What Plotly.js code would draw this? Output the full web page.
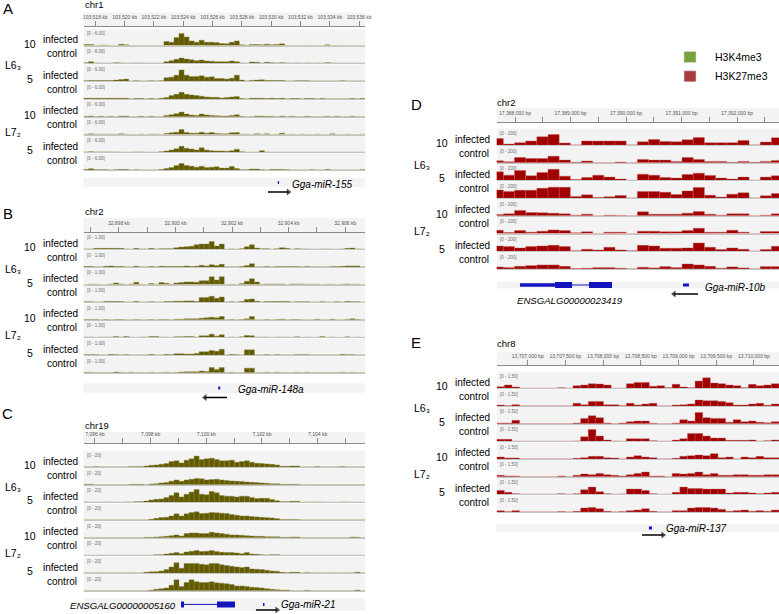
<!DOCTYPE html>
<html><head><meta charset="utf-8">
<script src="https://cdn.plot.ly/plotly-3.0.1.min.js"></script>
<style>html,body{margin:0;padding:0;background:#fff}#chart{width:779px;height:614px}</style>
</head><body><div id="chart"></div>
<script>
// ---------------- DATA (bin signal) ----------------
const sampleLabels = ['infected','control','infected','control','infected','control','infected','control'];
const dpiLabels = ['10','5','10','5'];
const lineLabels = ['L6\u2083','L7\u2082'];

// Panel A, chr1 (H3K4me3)
const A_L63_10_inf = [3,3,0,1,1,0,0,4,2,0,0,0,0,0,0,0, 12,10,24,36,26,14,10,16,10,10,9,6,5,10,14,2,1,3,3,2,4,2,3,5, 0,0,0,0,0,0,0,0,2,0,0,0,0,0,0,0];
const A_L63_10_ctl = [2,5,1,0,0,0,2,1,0,0,1,1,0,0,0,0, 5,8,12,16,13,11,8,10,7,6,5,5,5,7,5,1,0,4,3,1,3,2,1,2, 1,0,1,0,1,0,1,0,2,1,0,0,0,0,0,0];
const A_L63_5_inf  = [1,2,2,2,2,2,3,5,6,0,1,0,0,1,0,1, 10,12,18,34,18,14,14,16,12,13,8,8,6,9,18,3,0,2,3,4,2,2,2,2, 0,0,1,1,1,0,0,0,0,0,0,1,0,0,0,0];
const A_L63_5_ctl  = [2,2,2,2,2,2,2,2,2,0,1,1,0,1,0,2, 4,10,14,20,14,12,10,8,6,5,5,3,4,6,7,1,0,2,2,2,1,2,1,2, 0,1,1,0,1,1,0,1,0,0,0,0,0,1,0,1];
const A_L72_10_inf = [1,2,0,1,0,1,0,2,2,0,0,1,0,1,0,0, 4,6,9,14,8,5,4,8,5,4,3,2,2,4,6,1,0,0,2,2,1,1,0,2, 0,1,0,0,1,0,0,0,1,0,1,0,0,1,0,0];
const A_L72_10_ctl = [1,2,1,1,1,1,1,2,1,0,0,1,0,1,1,0, 3,5,7,15,6,4,4,7,4,6,3,2,2,5,6,1,1,0,2,1,2,0,1,4, 0,1,0,1,0,0,1,0,0,2,0,0,1,0,0,1];
const A_L72_5_inf  = [1,2,1,1,1,1,1,0,0,0,1,1,0,0,0,2, 4,7,11,18,12,10,7,14,7,5,4,4,3,5,9,2,0,0,0,5,1,0,0,0, 0,0,0,0,0,0,0,0,0,0,0,0,0,0,0,0];
const A_L72_5_ctl  = [2,4,1,1,1,0,1,2,2,0,1,0,0,0,0,2, 5,8,14,20,14,12,9,12,8,9,10,6,6,11,5,1,1,3,3,1,0,2,2,2, 1,0,0,0,0,1,0,0,2,0,0,0,0,0,0,1];

// Panel B, chr2 (H3K4me3)
const B_L63_10_inf = [1,1,3,3,3,3,3,3,1,0,3,1,1,3,1,2, 2,2,5,7,8,9,14,16,16,24,10,16,0,1,0,2,8,14,4,2,2,0,2,5, 3,0,2,1,1,0,0,1,1,0,0,1,3,4,1,0];
const B_L63_10_ctl = [1,1,0,0,2,3,1,1,0,0,2,0,0,1,0,2, 1,1,1,1,3,1,2,5,3,7,4,8,0,0,0,1,4,10,0,0,1,0,1,1, 1,1,1,0,1,0,0,0,0,1,1,2,3,3,3,0];
const B_L63_5_inf  = [0,1,1,0,0,2,5,2,0,2,7,1,0,3,1,6, 4,1,5,6,8,8,7,12,12,24,14,24,0,1,0,3,10,18,8,1,2,2,2,2, 0,2,2,2,1,1,1,0,1,1,0,1,2,1,1,0];
const B_L63_5_ctl  = [1,1,0,0,2,2,2,2,0,0,2,0,0,1,0,0, 2,2,3,3,4,4,2,14,14,18,12,16,0,1,0,2,8,10,3,0,2,2,2,2, 2,0,1,1,1,0,0,1,0,0,1,0,2,1,1,0];
const B_L72_10_inf = [1,1,1,0,1,0,1,1,0,0,1,0,0,1,0,1, 1,0,2,2,3,3,3,5,6,8,6,10,0,1,0,1,3,10,0,0,1,0,1,2, 0,1,1,0,0,0,2,0,0,2,0,0,1,3,1,0];
const B_L72_10_ctl = [1,1,0,1,1,1,3,1,3,1,0,1,1,3,3,1, 1,0,2,2,3,3,1,5,5,10,4,8,0,1,0,2,6,5,1,1,1,0,1,1, 1,0,2,0,1,0,0,3,0,1,0,0,2,0,1,0];
const B_L72_5_inf  = [1,1,1,0,0,2,1,0,1,0,0,0,0,2,0,0, 2,1,4,4,3,3,5,10,10,14,12,18,0,2,1,0,16,16,0,0,1,0,1,0, 0,0,1,1,1,0,0,0,0,0,0,2,1,1,0,0];
const B_L72_5_ctl  = [1,1,0,0,0,0,2,1,0,1,0,0,0,1,0,0, 1,0,1,2,3,3,3,5,4,16,10,16,0,1,0,0,14,14,0,0,1,0,1,0, 0,0,1,0,1,0,0,0,0,0,0,1,0,1,0,0];

// Panel C, chr19 (H3K4me3)
const C_L63_10_inf = [0,0,1,0,0,0,0,0,0,1,1,1,3,5,6,8, 10,16,18,12,20,24,32,22,24,26,22,18,18,20,14,16,18,14,11,10,9,8,6,2, 2,3,3,0,0,0,1,0,0,0,0,1,0,0,0,0];
const C_L63_10_ctl = [1,1,0,0,0,0,0,0,0,1,1,1,0,2,3,5, 6,10,14,10,14,16,18,17,14,15,16,14,12,11,10,9,8,7,6,5,4,3,3,1, 1,1,1,0,0,0,0,0,0,0,0,0,0,0,0,0];
const C_L63_5_inf  = [1,0,0,0,1,1,0,0,1,1,2,2,4,7,9,10, 14,20,28,16,24,30,38,24,22,32,28,20,18,18,16,18,18,14,11,12,12,8,5,2, 2,3,3,0,1,1,1,1,0,0,0,1,1,0,0,0];
const C_L63_5_ctl  = [0,0,0,0,0,0,0,0,0,0,0,0,0,2,5,7, 8,12,18,12,18,22,24,19,20,22,21,20,19,16,14,12,12,10,9,8,7,6,4,1, 1,1,1,0,0,0,0,0,0,0,0,0,0,0,0,0];
const C_L72_10_inf = [0,0,0,0,0,0,0,0,0,0,0,0,1,1,2,3, 4,6,8,5,12,14,14,12,12,16,14,12,10,8,8,7,6,5,4,4,3,3,3,1, 1,2,2,0,0,0,0,0,0,0,0,0,0,2,1,0];
const C_L72_10_ctl = [0,0,0,0,0,0,0,0,0,0,0,0,0,0,2,2, 4,6,8,5,10,12,14,11,12,14,11,9,8,8,7,5,8,4,3,2,1,2,2,0, 0,0,0,0,0,0,0,0,0,0,0,0,0,0,0,0];
const C_L72_5_inf  = [0,0,0,0,0,0,0,0,0,0,0,0,2,4,4,6, 10,18,30,14,28,28,28,26,24,28,28,24,22,20,18,16,18,12,11,10,8,6,5,2, 1,2,2,0,1,0,0,0,0,0,0,0,0,0,2,0];
const C_L72_5_ctl  = [0,0,0,0,0,0,0,0,0,0,0,0,0,2,4,6, 8,16,32,12,24,32,26,24,24,26,23,22,20,18,14,14,12,10,9,8,6,4,3,2, 2,0,0,0,1,0,0,0,0,0,0,0,0,0,2,0];

// Panel D, chr2 (H3K27me3)
const D_L63_10_inf = [20,3,7,12,25,32,6,0,12,12,12,12,0,10,17,11,10,16,23,7,7,7,14,0,9,22];
const D_L63_10_ctl = [6,3,16,13,13,20,8,1,5,0,0,2,0,10,8,8,4,16,10,4,4,1,4,1,4,7];
const D_L63_5_inf  = [26,16,30,14,24,34,13,3,9,16,10,4,0,19,16,9,7,18,22,15,7,4,10,0,10,14];
const D_L63_5_ctl  = [25,20,24,24,30,33,33,5,10,2,4,8,0,20,20,18,11,22,32,9,3,12,16,0,7,14];
const D_L72_10_inf = [4,6,16,10,9,8,6,2,5,0,2,1,0,12,5,5,5,8,13,5,2,6,6,0,2,6];
const D_L72_10_ctl = [10,3,9,4,7,11,9,2,5,0,4,4,0,7,7,5,5,9,16,4,4,10,4,0,6,6];
const D_L72_5_inf  = [16,14,10,14,16,18,14,1,6,4,12,4,1,18,16,9,9,10,25,12,5,10,6,0,5,15];
const D_L72_5_ctl  = [6,4,8,10,12,12,8,1,2,4,4,2,0,5,3,7,4,15,12,8,2,6,3,0,7,7];

// Panel E, chr8 (H3K27me3)
const E_L63_10_inf = [5,10,4,0,0,0,0,0,2,0, 8,10,14,13,10,0,0,14,18,18, 6,8,2,12,4,2,22,32,16,14, 10,8,2,12,8,10,14];
const E_L63_10_ctl = [3,1,4,0,0,0,0,0,0,0, 8,4,14,14,4,4,1,8,3,6, 8,0,0,3,4,6,18,16,16,14, 10,3,3,6,8,2,6];
const E_L63_5_inf  = [2,2,10,0,0,0,0,0,0,0, 2,16,24,18,2,0,2,6,8,8, 1,0,0,2,12,8,34,18,16,16, 4,12,6,8,4,3,6];
const E_L63_5_ctl  = [6,6,0,0,0,0,0,0,0,0, 1,14,36,16,4,1,0,8,8,8, 2,0,0,4,8,24,24,16,10,10, 3,3,3,4,0,2,4];
const E_L72_10_inf = [6,3,3,0,0,0,0,0,0,0, 2,4,8,8,4,3,0,6,10,6, 4,0,0,2,8,10,12,10,16,4, 6,0,6,4,8,4,4];
const E_L72_10_ctl = [4,2,2,0,0,0,0,0,2,0, 4,8,6,10,6,4,2,6,10,14, 2,2,0,10,8,10,14,6,10,4, 4,6,6,4,4,6,6];
const E_L72_5_inf  = [12,6,2,0,0,0,0,0,2,0, 2,14,22,8,2,0,1,16,16,12, 2,0,0,6,22,18,18,16,16,16, 4,6,6,4,2,4,6];
const E_L72_5_ctl  = [4,1,4,0,0,0,0,0,1,0, 2,12,14,10,2,0,1,4,6,10, 2,0,0,4,4,12,14,14,12,8, 2,4,6,2,4,2,6];

// Gene annotation features (in bin units of each panel); arrows: [tail, head] = strand
const A_miR155 = [38.15, 38.4];   const A_arrow155 = [36.2, 40.25];
const B_miR148a = [26.3, 26.7];   const B_arrow148a = [28.05, 23.67];
const C_ENSG5160_body = [18.9, 29.64]; const C_ENSG5160_exons = [[18.9,19.5],[26.06,29.64]];
const C_miR21 = [35.2, 35.5];     const C_arrow21 = [33.8, 38.0];
const D_ENSG23419_body = [1.99, 10.23]; const D_ENSG23419_utr = [[1.99,5.13]];
const D_ENSG23419_exons = [[5.13,6.65],[8.17,10.23]];
const D_miR10b = [16.58, 17.12]; const D_arrow10b = [17.93, 15.78];
const E_miR137 = [19.45, 19.85]; const E_arrow137 = [18.55, 21.3];

// Legend
const legendNames = ['H3K4me3','H3K27me3'];
const legendColors = ['#77a23a','#a83c3c'];

// ---------------- LAYOUT ----------------
const W = 779, H = 614;
const FONT = "'Liberation Sans',Arial,sans-serif";
const OLIVE = '#615900', OLIVE_EDGE = '#8e883e';
const RED = '#a00000', RED_EDGE = '#c65a5a';
const GENE = '#1414bf';
const BG = '#f3f3f3';

const panels = [
  {letter:'A', chrom:'chr1', x0:83.5, x1:365, b0:45.5, pitch:17.8, yMax:50, xr:[-0.5,55.5], scale:'[0 - 6.00]',
   tracks:[A_L63_10_inf,A_L63_10_ctl,A_L63_5_inf,A_L63_5_ctl,A_L72_10_inf,A_L72_10_ctl,A_L72_5_inf,A_L72_5_ctl],
   color:OLIVE, edge:OLIVE_EDGE,
   ruler:{lineY:26, topY:12.5, range:[103517.2,103536.4], tick0:103518, dtick:2, minor:0, suffix:' kb'},
   gene:{top:178, bot:187, arrowY:192, arrow:A_arrow155, mirs:[A_miR155], body:null, exons:[], utr:[],
         mirLabel:{text:'Gga-miR-155', x:290, y:184.5}, geneLabel:null},
   letterXY:[7.5,8], chromXY:[83,4.5], lab:{L:3, num:30, txt:80}},
  {letter:'B', chrom:'chr2', x0:83.5, x1:365, b0:249.3, pitch:17.63, yMax:50, xr:[-0.5,55.5], scale:'[0 - 1.00]',
   tracks:[B_L63_10_inf,B_L63_10_ctl,B_L63_5_inf,B_L63_5_ctl,B_L72_10_inf,B_L72_10_ctl,B_L72_5_inf,B_L72_5_ctl],
   color:OLIVE, edge:OLIVE_EDGE,
   ruler:{lineY:232.3, topY:218, range:[32896.75,32906.7], tick0:32898, dtick:2, minor:1, suffix:' kb'},
   gene:{top:383, bot:393, arrowY:397.5, arrow:B_arrow148a, mirs:[B_miR148a], body:null, exons:[], utr:[],
         mirLabel:{text:'Gga-miR-148a', x:236, y:390}, geneLabel:null},
   letterXY:[7.5,214], chromXY:[83,212], lab:{L:3, num:30, txt:80}},
  {letter:'C', chrom:'chr19', x0:83.5, x1:365, b0:467, pitch:17.67, yMax:48, xr:[-0.5,55.5], scale:'[0 - 20]',
   tracks:[C_L63_10_inf,C_L63_10_ctl,C_L63_5_inf,C_L63_5_ctl,C_L72_10_inf,C_L72_10_ctl,C_L72_5_inf,C_L72_5_ctl],
   color:OLIVE, edge:OLIVE_EDGE,
   ruler:{lineY:443.3, topY:432, range:[7095.59,7105.7], tick0:7096, dtick:2, minor:1, suffix:' kb'},
   gene:{top:598, bot:612, arrowY:611, arrow:C_arrow21, mirs:[C_miR21], body:C_ENSG5160_body, exons:C_ENSG5160_exons, utr:[],
         mirLabel:{text:'Gga-miR-21', x:279, y:604}, geneLabel:{text:'ENSGALG00000005160', x:178, y:605, anchor:'right'}},
   letterXY:[7.5,413], chromXY:[83,425.5], lab:{L:3, num:30, txt:80}},
  {letter:'D', chrom:'chr2', x0:496.7, x1:779, b0:145, pitch:17.7, yMax:50, xr:[-0.094,25.18], scale:'[0 - 200]',
   tracks:[D_L63_10_inf,D_L63_10_ctl,D_L63_5_inf,D_L63_5_ctl,D_L72_10_inf,D_L72_10_ctl,D_L72_5_inf,D_L72_5_ctl],
   color:RED, edge:RED_EDGE,
   ruler:{lineY:121.7, topY:108, range:[17387670,17392756], tick0:17388000, dtick:1000, minor:500, suffix:' bp'},
   gene:{top:281.5, bot:288.5, arrowY:294, arrow:D_arrow10b, mirs:[D_miR10b], body:D_ENSG23419_body, exons:D_ENSG23419_exons, utr:D_ENSG23419_utr,
         mirLabel:{text:'Gga-miR-10b', x:703, y:287}, geneLabel:{text:'ENSGALG00000023419', x:569.5, y:300, anchor:'center'}},
   letterXY:[416,105], chromXY:[495,102.5], lab:{L:412, num:442, txt:492}},
  {letter:'E', chrom:'chr8', x0:496.7, x1:779, b0:388.3, pitch:17.67, yMax:50, xr:[-0.5,36.5], scale:'[0 - 1.50]',
   tracks:[E_L63_10_inf,E_L63_10_ctl,E_L63_5_inf,E_L63_5_ctl,E_L72_10_inf,E_L72_10_ctl,E_L72_5_inf,E_L72_5_ctl],
   color:RED, edge:RED_EDGE,
   ruler:{lineY:365, topY:352, range:[13706589,13710333], tick0:13707000, dtick:500, minor:0, suffix:' bp'},
   gene:{top:524, bot:532, arrowY:535, arrow:E_arrow137, mirs:[E_miR137], body:null, exons:[], utr:[],
         mirLabel:{text:'Gga-miR-137', x:664, y:528}, geneLabel:null},
   letterXY:[416,342], chromXY:[495,343.5], lab:{L:412, num:442, txt:492}}
];

const traces = [], shapes = [], annotations = [];
const layout = {width:W, height:H, margin:{l:0,r:0,t:0,b:0}, paper_bgcolor:'#ffffff', plot_bgcolor:'rgba(0,0,0,0)',
  showlegend:false, bargap:0, barmode:'overlay', hovermode:false};
const py = p => 1 - p/H, px = p => p/W;
const sfx = k => k === 1 ? '' : String(k);
let n = 0;

function txt(text, x, y, size, opts={}) {
  annotations.push(Object.assign({xref:'paper', yref:'paper', x:px(x), y:py(y), text, showarrow:false,
    xanchor:'center', yanchor:'middle', font:{family:FONT, size, color:'#000'}}, opts));
}
function bgRect(k, y0, y1, yIsData) {
  shapes.push({type:'rect', layer:'below', xref:'x'+sfx(k)+' domain', yref: yIsData ? 'y'+sfx(k) : 'y'+sfx(k)+' domain',
    x0:0, x1:1, y0, y1, fillcolor:BG, line:{width:0}});
}

panels.forEach(P => {
  const nb = P.tracks[0].length;
  const xs = Array.from({length:nb}, (_, i) => i);
  P.tracks.forEach((vals, i) => {
    n++;
    const base = P.b0 + i*P.pitch, top = base - P.pitch + 1.3;
    traces.push({type:'bar', x:xs, y:vals, width:1, xaxis:'x'+sfx(n), yaxis:'y'+sfx(n),
      marker:{color:P.color, line:{color:P.edge, width:0.4}}, hoverinfo:'skip'});
    layout['xaxis'+sfx(n)] = {domain:[px(P.x0), px(P.x1)], anchor:'y'+sfx(n), range:P.xr, showgrid:false, zeroline:false,
      showticklabels:false, ticks:'', showline:true, linecolor:'#c4c4c4', linewidth:1, fixedrange:true};
    layout['yaxis'+sfx(n)] = {domain:[py(base), py(top)], anchor:'x'+sfx(n), range:[0, P.yMax], visible:false, fixedrange:true};
    bgRect(n, 0, 1, false);
    annotations.push({xref:'paper', yref:'paper', x:px(P.x0+1), y:py(top+0.2), xanchor:'left', yanchor:'top',
      text:P.scale, showarrow:false, font:{family:FONT, size:4.5, color:'#6d6d6d'}});
  });
  // ruler
  n++;
  const R = P.ruler;
  traces.push({type:'scatter', x:[], y:[], xaxis:'x'+sfx(n), yaxis:'y'+sfx(n), hoverinfo:'skip'});
  layout['xaxis'+sfx(n)] = {domain:[px(P.x0), px(P.x1)], anchor:'free', position:py(R.lineY), side:'top',
    range:R.range, tick0:R.tick0, dtick:R.dtick, tickformat:',d', ticksuffix:R.suffix, ticks:'outside', ticklen:5,
    tickwidth:0.8, tickcolor:'#707070', showline:true, linecolor:'#8a8a8a', linewidth:1, showgrid:false, zeroline:false,
    tickfont:{family:FONT, size:5, color:'#555'}, fixedrange:true,
    minor: R.minor ? {dtick:R.minor, ticks:'outside', ticklen:5, tickwidth:0.8, tickcolor:'#707070', showgrid:false} : undefined};
  layout['yaxis'+sfx(n)] = {domain:[py(R.lineY), py(R.topY)], anchor:'x'+sfx(n), range:[0,1], visible:false, fixedrange:true};
  bgRect(n, 0, 1, false);
  // gene track (band + strand arrow below it)
  n++;
  const G = P.gene, xa = 'x'+sfx(n), ya = 'y'+sfx(n);
  const lowPx = Math.max(G.bot, G.arrowY + 4.5);
  const yOf = p => (lowPx - p) / (lowPx - G.top);      // pixel row -> y value of this subplot
  layout['xaxis'+sfx(n)] = {domain:[px(P.x0), px(P.x1)], anchor:ya, range:P.xr, visible:false, fixedrange:true};
  layout['yaxis'+sfx(n)] = {domain:[py(lowPx), py(G.top)], anchor:xa, range:[0,1], visible:false, fixedrange:true};
  bgRect(n, yOf(G.bot), 1, true);
  const yMid = yOf((G.top + G.bot)/2);
  const seg = (r, w) => traces.push({type:'scatter', mode:'lines', x:r, y:[yMid,yMid], xaxis:xa, yaxis:ya,
    line:{color:GENE, width:w}, hoverinfo:'skip'});
  if (G.body) seg(G.body, 1);
  G.utr.forEach(r => seg(r, 3.5));
  G.exons.forEach(r => seg(r, 6));
  G.mirs.forEach(r => seg(r, 3));
  const yA = yOf(G.arrowY);
  traces.push({type:'scatter', mode:'lines+markers', x:G.arrow, y:[yA, yA], xaxis:xa, yaxis:ya, cliponaxis:false,
    line:{color:'#000', width:1.5}, marker:{symbol:'triangle-up', size:[0,6], angleref:'previous', color:'#000', line:{width:0}},
    hoverinfo:'skip'});
  txt('<i>'+G.mirLabel.text+'</i>', G.mirLabel.x, G.mirLabel.y, 10, {xanchor:'left'});
  if (G.geneLabel) txt('<i>'+G.geneLabel.text+'</i>', G.geneLabel.x, G.geneLabel.y, 9.6, {xanchor:G.geneLabel.anchor});
  // letters and chromosome
  txt(P.letter, P.letterXY[0], P.letterXY[1], 15);
  txt(P.chrom, P.chromXY[0], P.chromXY[1], 9.5, {xanchor:'left'});
  // row labels
  for (let p = 0; p < 4; p++) {
    const base = P.b0 + p*2*P.pitch;
    txt(sampleLabels[2*p], P.lab.txt, base - 6, 10, {xanchor:'right'});
    txt(sampleLabels[2*p+1], P.lab.txt - 1.5, base + 8, 10, {xanchor:'right'});
    txt(dpiLabels[p], P.lab.num, base - 2, 10.5);
  }
  txt(lineLabels[0], P.lab.L, P.b0 + 19.5, 10.5, {xanchor:'left'});
  txt(lineLabels[1], P.lab.L, P.b0 + 4*P.pitch + 15, 10.5, {xanchor:'left'});
});

// legend swatches
legendNames.forEach((name, i) => {
  const cy = 57 + i*19.3;
  shapes.push({type:'rect', xref:'paper', yref:'paper', x0:px(684), x1:px(696), y0:py(cy-5.5), y1:py(cy+5.5),
    fillcolor:legendColors[i], line:{color:'#d8d8d8', width:0.6}});
  txt(name, 713, cy, 10.5, {xanchor:'left'});
});

layout.shapes = shapes;
layout.annotations = annotations;
Plotly.newPlot('chart', traces, layout, {staticPlot:true, displayModeBar:false});
</script>
</body></html>
